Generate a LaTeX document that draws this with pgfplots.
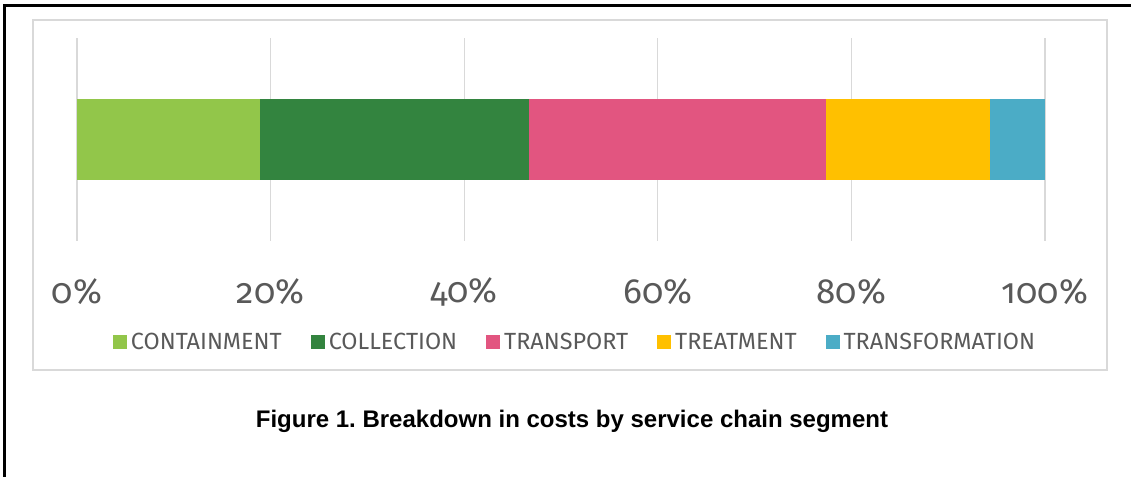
\documentclass[border=0pt]{standalone}
\usepackage{pgfplots}
\pgfplotsset{compat=1.18}
\usepackage{fontspec}
\setmainfont{Fira Sans}
\newfontfamily\tickfont[Numbers=OldStyle]{Fira Sans}
\newfontfamily\capfont{Liberation Sans}
\frenchspacing
\definecolor{cA}{HTML}{92C64A}
\definecolor{cB}{HTML}{33843F}
\definecolor{cC}{HTML}{E25580}
\definecolor{cD}{HTML}{FFC000}
\definecolor{cE}{HTML}{4BACC6}
\definecolor{txt}{HTML}{595959}
\definecolor{gridc}{HTML}{D9D9D9}
\begin{document}
\begin{tikzpicture}
\path[use as bounding box] (0,0) rectangle (565.5pt,238.5pt);
\draw[line width=1.5pt] (2pt,0) -- (2pt,235.75pt) -- (565.5pt,235.75pt);
\draw[gridc, line width=0.6pt] (16.5pt,53.5pt) rectangle (553.5pt,228.5pt);
\begin{axis}[
  at={(38.5pt,118pt)}, anchor=south west,
  width=484pt, height=101.5pt, scale only axis,
  xmin=0, xmax=100, ymin=-1, ymax=1,
  xbar stacked, bar width=40pt,
  axis line style={draw=none},
  tick style={draw=none},
  ytick=\empty,
  xtick={0,20,40,60,80,100},
  xticklabels={0\%,20\%,40\%,60\%,80\%,100\%},
  xmajorgrids, grid style={color=gridc, line width=0.6pt},
  xticklabel style={font=\tickfont\fontsize{17.5}{19}\selectfont, text=txt, anchor=center, yshift=-25.5pt},
  clip=false,
  legend columns=5,
  legend style={at={(0.5155,-0.5)}, anchor=center, draw=none, fill=none,
    font=\fontsize{11.7}{13}\selectfont, text=txt,
    /tikz/every even column/.append style={column sep=12.5pt}},
  legend image code/.code={\fill[#1] (-1pt,-3.5pt) rectangle (6pt,3.5pt);},
]
\addplot[fill=cA, draw=none] coordinates {(18.9,0)};
\addplot[fill=cB, draw=none] coordinates {(27.8,0)};
\addplot[fill=cC, draw=none] coordinates {(30.7,0)};
\addplot[fill=cD, draw=none] coordinates {(16.9,0)};
\addplot[fill=cE, draw=none] coordinates {(5.7,0)};
\legend{CONTAINMENT, COLLECTION, TRANSPORT, TREATMENT, TRANSFORMATION}
\end{axis}
\node[font=\capfont\bfseries\fontsize{12}{14}\selectfont] at (286pt,28pt) {Figure 1. Breakdown in costs by service chain segment};
\end{tikzpicture}
\end{document}
